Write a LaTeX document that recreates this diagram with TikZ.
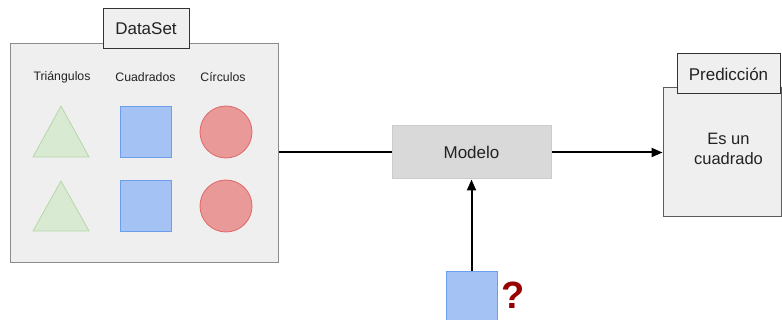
\documentclass[tikz,border=0pt]{standalone}
\usepackage{fontspec}
\setmainfont{Liberation Sans}
\usetikzlibrary{arrows.meta}
\definecolor{boxfill}{HTML}{EFEFEF}
\definecolor{modfill}{HTML}{D9D9D9}
\definecolor{modline}{HTML}{CCCCCC}
\definecolor{grayline}{HTML}{8C8C8C}
\definecolor{darkline}{HTML}{333333}
\definecolor{trifill}{HTML}{D9EAD3}
\definecolor{triline}{HTML}{B6D7A8}
\definecolor{sqfill}{HTML}{A4C2F4}
\definecolor{sqline}{HTML}{6D9EEB}
\definecolor{cifill}{HTML}{EA9999}
\definecolor{ciline}{HTML}{E06666}
\definecolor{qred}{HTML}{990000}
\definecolor{txt}{HTML}{222222}
\tikzset{
  bigtext/.style={font=\fontsize{17}{20}\selectfont, text=txt},
  smalltext/.style={font=\fontsize{12.3}{14}\selectfont, text=txt},
  panel/.style={draw=grayline, fill=boxfill, line width=1pt, inner sep=0pt},
  tagbox/.style={draw=darkline, fill=boxfill, line width=1pt, inner sep=0pt, bigtext},
  sq/.style={draw=sqline, fill=sqfill, line width=0.8pt, minimum width=51pt, minimum height=51pt, inner sep=0pt},
  ci/.style={draw=ciline, fill=cifill, line width=0.8pt, circle, minimum size=52pt, inner sep=0pt},
  tri/.style={draw=triline, fill=trifill, line width=0.8pt, line join=miter},
  conn/.style={line width=2pt, black},
  arr/.style={conn, -{Triangle[length=11pt,width=9pt]}}
}
\begin{document}
\begin{tikzpicture}[x=1pt,y=-1pt]
\useasboundingbox (0,0) rectangle (782,320);
% DataSet panel
\node[panel, minimum width=268pt, minimum height=219pt] (ds) at (144.9,153.5) {};
\node[tagbox, minimum width=86pt, minimum height=40pt] (dstag) at (146,29) {DataSet};
\node[smalltext] (ltri) at (62,77) {Triángulos};
\node[smalltext] (lsq) at (145.5,77) {Cuadrados};
\node[smalltext] (lci) at (223,77) {Círculos};
\draw[tri] (33,157) -- (61,106) -- (89,157) -- cycle;
\draw[tri] (33,231) -- (61,181) -- (89,231) -- cycle;
\node[sq] (sq1) at (145.5,131.5) {};
\node[sq] (sq2) at (145.5,206) {};
\node[ci] (ci1) at (226,132) {};
\node[ci] (ci2) at (226,206) {};
% Modelo
\node[draw=modline, fill=modfill, line width=1pt, minimum width=159pt, minimum height=53pt, bigtext] (mod) at (471.5,152.5) {Modelo};
% Prediccion
\node[panel, draw=darkline!80, minimum width=118pt, minimum height=129pt] (pred) at (722,152.5) {};
\node[bigtext, align=center, font=\fontsize{16.5}{19.5}\selectfont] (predtxt) at (728.5,149) {Es un\\cuadrado};
\node[tagbox, minimum width=103pt, minimum height=40pt] (predtag) at (728.5,74) {Predicción};
% query
\node[sq] (q) at (471.5,296.5) {};
\node[font=\fontsize{38}{40}\selectfont\bfseries, text=qred] (qm) at (513.5,295) {?};
% connectors
\draw[conn] (ds.east |- mod.west) -- (mod.west);
\draw[arr] (mod.east) -- (pred.west |- mod.east);
\draw[arr] (q.north) -- (mod.south);
\end{tikzpicture}
\end{document}
